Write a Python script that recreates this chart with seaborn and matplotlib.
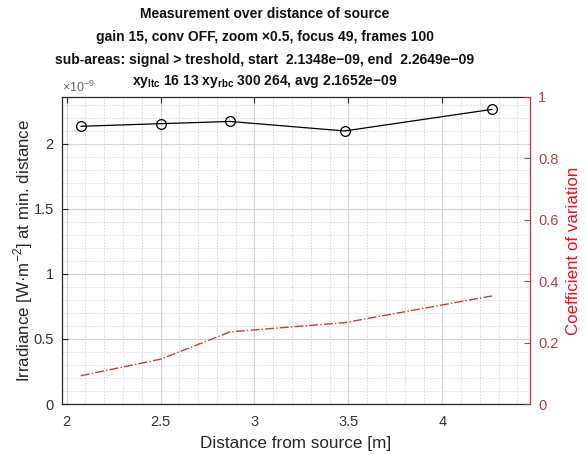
import matplotlib
matplotlib.use("Agg")
import matplotlib.pyplot as plt
import seaborn as sns
import pandas as pd
import numpy as np
from matplotlib.ticker import MultipleLocator, FuncFormatter

distance = [2.075, 2.50, 2.87, 3.48, 4.265]
irradiance = [2.1348e-9, 2.155e-9, 2.172e-9, 2.099e-9, 2.2649e-9]
cov = [0.092, 0.146, 0.235, 0.265, 0.352]

title_lines = [
    "Measurement over distance of source",
    "gain 15, conv OFF, zoom \u00d70.5, focus 49, frames 100",
    "sub-areas: signal > treshold, start  2.1348e\u221209, end  2.2649e\u221209",
    "xy$_{\\mathbf{ltc}}$ 16 13 xy$_{\\mathbf{rbc}}$ 300 264, avg 2.1652e\u221209",
]

sns.set_style("white")
plt.rcParams['font.family'] = ['Liberation Sans', 'DejaVu Sans']
plt.rcParams['mathtext.fontset'] = 'custom'
plt.rcParams['mathtext.rm'] = 'Liberation Sans'
plt.rcParams['mathtext.bf'] = 'Liberation Sans:bold'

df = pd.DataFrame({"d": distance, "irr": irradiance, "cov": cov})

fig = plt.figure(figsize=(5.87, 4.55), dpi=100)
ax = fig.add_axes([62/587, 1-404/455, (530-62)/587, (404-97)/455])

sns.lineplot(data=df, x="d", y="irr", ax=ax, color="black", linewidth=0.9,
             marker="o", markersize=7, markerfacecolor="none",
             markeredgecolor="black", markeredgewidth=0.9)
ax.set_xlim(1.975, 4.467)
ax.set_ylim(0, 2.36e-9)
ax.yaxis.set_major_locator(MultipleLocator(0.5e-9))
ax.yaxis.set_minor_locator(MultipleLocator(0.1e-9))
ax.xaxis.set_major_locator(MultipleLocator(0.5))
ax.xaxis.set_minor_locator(MultipleLocator(0.1))
ax.yaxis.set_major_formatter(FuncFormatter(lambda v, p: "%g" % round(v / 1e-9, 3)))
ax.xaxis.set_major_formatter(FuncFormatter(lambda v, p: "%g" % round(v, 3)))
ax.text(0.0, 1.008, "\u00d710$^{\\mathdefault{-9}}$", transform=ax.transAxes,
        ha="left", va="bottom", fontsize=9, color="#666666")

ax.grid(True, which="major", color="#d4d4d4", linewidth=0.8, linestyle="-")
ax.grid(True, which="minor", color="#cccccc", linewidth=0.6, linestyle=(0, (1.5, 2)))
ax.set_axisbelow(True)
for s in ["left", "bottom", "top"]:
    ax.spines[s].set_color("#262626")
    ax.spines[s].set_linewidth(0.9)
ax.spines["right"].set_visible(False)
ax.tick_params(axis="y", which="major", direction="in", length=4, labelsize=10.5,
               labelcolor="#333333", color="#262626", pad=6)
ax.tick_params(axis="x", which="major", direction="in", length=4, labelsize=10.5,
               labelcolor="#333333", color="#262626", top=True, pad=8)
ax.tick_params(axis="both", which="minor", length=0)
ax.set_xlabel("Distance from source [m]", fontsize=12.3, color="#262626", labelpad=5)
ax.set_ylabel("Irradiance [W\u00b7m$^{\u22122}$] at min. distance", fontsize=12.2,
              color="#262626", labelpad=-1)

ax2 = ax.twinx()
sns.lineplot(data=df, x="d", y="cov", ax=ax2, color="#d23a3a", linewidth=1.0)
ax2.lines[0].set_linestyle("-.")
ax2.set_ylim(0, 1)
ax2.set_yticks([0, 0.2, 0.4, 0.6, 0.8, 1])
ax2.set_yticklabels(["0", "0.2", "0.4", "0.6", "0.8", "1"])
ax2.grid(False)
for s in ["left", "bottom", "top"]:
    ax2.spines[s].set_visible(False)
ax2.spines["right"].set_color("#9a4848")
ax2.spines["right"].set_linewidth(0.9)
ax2.tick_params(axis="y", direction="in", length=4, labelsize=10.5,
                labelcolor="#a84545", color="#9a4848", pad=6)
ax2.set_ylabel("Coefficient of variation", fontsize=12.2, color="#e8141c", labelpad=5)
ax2.set_xlabel("")

cx = 265 / 587
for line, ypix in zip(title_lines, [14, 37, 60, 82]):
    fig.text(cx, 1 - ypix / 455, line, ha="center", va="center",
             fontsize=10, fontweight="bold", color="#111111")

fig.savefig("out.png", dpi=100)
